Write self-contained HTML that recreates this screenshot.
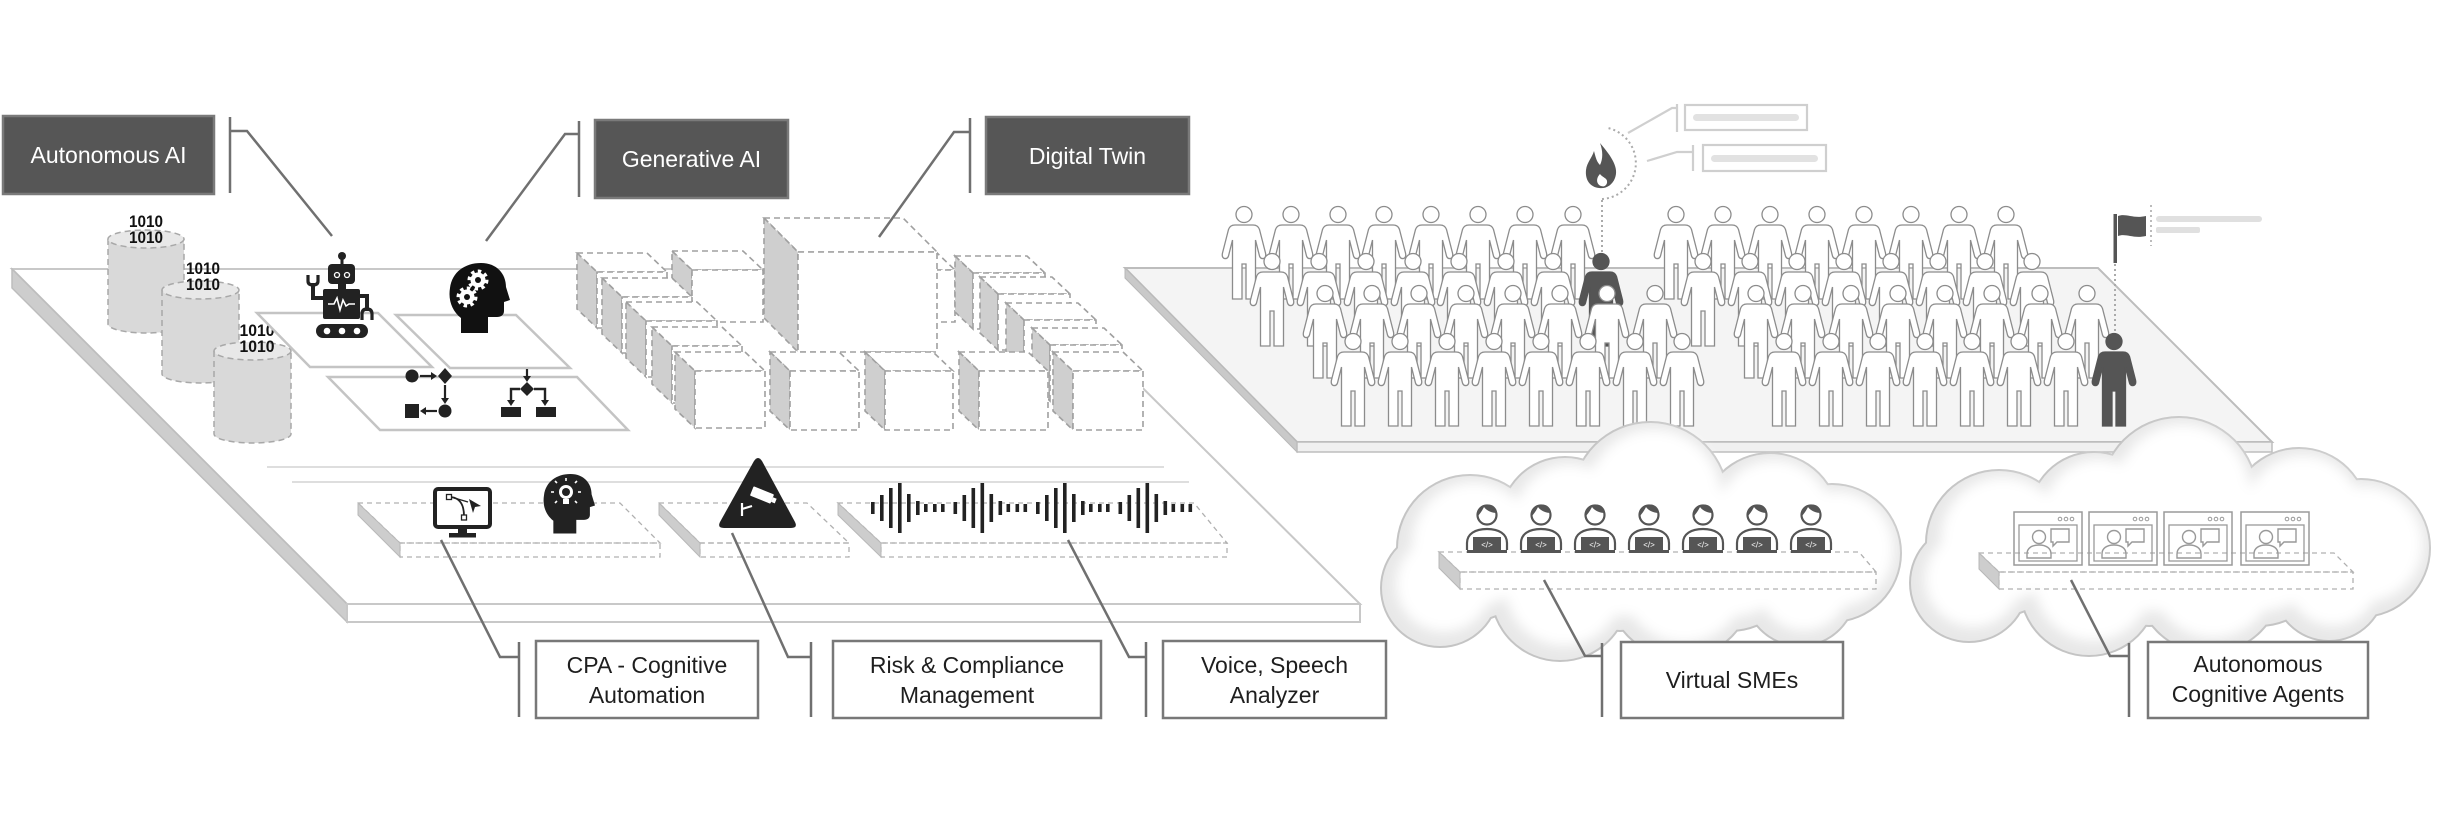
<!DOCTYPE html>
<html>
<head>
<meta charset="utf-8">
<style>
html,body{margin:0;padding:0;background:#fff;}
svg{display:block;}
text{font-family:"Liberation Sans",Arial,sans-serif;}
</style>
</head>
<body>
<svg width="2449" height="831" viewBox="0 0 2449 831" xmlns="http://www.w3.org/2000/svg">
<defs>
  <g id="pw">
    <circle cx="0" cy="8.5" r="8"/>
    <path d="M-9,19 L9,19 Q14,19 15.5,23.5 L21.5,47 Q22.5,51.5 19.5,52.5 Q16.5,53 15.5,50 L11.5,34 L11.5,93 L2,93 L2,58 L-2,58 L-2,93 L-11.5,93 L-11.5,34 L-15.5,50 Q-16.5,53 -19.5,52.5 Q-22.5,51.5 -21.5,47 L-15.5,23.5 Q-14,19 -9,19 Z"/>
  </g>
  <g id="sme">
    <path d="M-20,47 L-20,40 C-20,31 -12,26 0,26 C12,26 20,31 20,40 L20,47" fill="#fff" stroke="#555" stroke-width="2.2"/>
    <circle cx="0" cy="12" r="9.5" fill="#fff" stroke="#555" stroke-width="2.2"/>
    <path d="M-10,13 C-10,4 -4,1.5 1,1.5 C7,1.5 10,6 10,10 C4,10 -1,7 -3,4 C-5,8 -7,11 -10,14 Z" fill="#555"/>
    <rect x="-14" y="34" width="28" height="14" fill="#555"/>
    <rect x="-20" y="47" width="40" height="3" fill="#555"/>
    <text x="0" y="44.5" font-size="8" fill="#fff" text-anchor="middle">&lt;/&gt;</text>
  </g>
  <g id="win">
    <rect x="0" y="0" width="68" height="53" fill="none" stroke="#9a9a9a" stroke-width="1.5"/>
    <rect x="5" y="13" width="58" height="36" fill="none" stroke="#9a9a9a" stroke-width="1.3"/>
    <circle cx="46" cy="7" r="1.8" fill="none" stroke="#999" stroke-width="1"/>
    <circle cx="52" cy="7" r="1.8" fill="none" stroke="#999" stroke-width="1"/>
    <circle cx="58" cy="7" r="1.8" fill="none" stroke="#999" stroke-width="1"/>
    <circle cx="25" cy="25" r="6.5" fill="none" stroke="#999" stroke-width="1.4"/>
    <path d="M13,46 L13,42 C13,36 18,33 25,33 C32,33 37,36 37,42 L37,46 Z" fill="none" stroke="#999" stroke-width="1.4"/>
    <path d="M37,17 L55,17 L55,30 L43,30 L39,34 L39,30 L37,30 Z" fill="none" stroke="#999" stroke-width="1.4"/>
  </g>
  <filter id="bl" x="-30%" y="-30%" width="160%" height="160%"><feGaussianBlur stdDeviation="6"/></filter>
  <g id="cloudfull">
    <g fill="#c4c4c4">
      <circle cx="1650" cy="500" r="79"/>
      <circle cx="1565" cy="522" r="66"/>
      <circle cx="1470" cy="548" r="74"/>
      <circle cx="1440" cy="588" r="60"/>
      <circle cx="1770" cy="522" r="70"/>
      <circle cx="1832" cy="553" r="70"/>
      <circle cx="1560" cy="592" r="70"/>
      <circle cx="1680" cy="585" r="74"/>
      <circle cx="1800" cy="590" r="57"/>
      <circle cx="1620" cy="560" r="72"/>
      <circle cx="1730" cy="560" r="72"/>
    </g>
    <g fill="#e8e8e8">
      <circle cx="1650" cy="500" r="77"/>
      <circle cx="1565" cy="522" r="64"/>
      <circle cx="1470" cy="548" r="72"/>
      <circle cx="1440" cy="588" r="58"/>
      <circle cx="1770" cy="522" r="68"/>
      <circle cx="1832" cy="553" r="68"/>
      <circle cx="1560" cy="592" r="68"/>
      <circle cx="1680" cy="585" r="72"/>
      <circle cx="1800" cy="590" r="55"/>
      <circle cx="1620" cy="560" r="70"/>
      <circle cx="1730" cy="560" r="70"/>
    </g>
    <g fill="#ffffff" filter="url(#bl)" transform="translate(4,-4)">
      <circle cx="1650" cy="500" r="67"/>
      <circle cx="1565" cy="522" r="54"/>
      <circle cx="1470" cy="548" r="62"/>
      <circle cx="1440" cy="588" r="48"/>
      <circle cx="1770" cy="522" r="58"/>
      <circle cx="1832" cy="553" r="58"/>
      <circle cx="1560" cy="592" r="58"/>
      <circle cx="1680" cy="585" r="62"/>
      <circle cx="1800" cy="590" r="45"/>
      <circle cx="1620" cy="560" r="60"/>
      <circle cx="1730" cy="560" r="60"/>
    </g>
  </g>
  <g id="gear">
    <circle r="7.5" fill="#fff"/>
    <circle r="8.5" fill="none" stroke="#fff" stroke-width="4" stroke-dasharray="3.3 3.3"/>
    <circle r="3" fill="#111"/>
  </g>
  <path id="headp" d="M461,333 L461,318 C452,311 448,300 450,288 C452,272 465,263 481,263 C497,263 506,274 506,287 L510,300 L504,302 L504,311 C504,315 501,317 497,317 L488,317 L488,333 Z"/>
</defs>

<rect x="0" y="0" width="2449" height="831" fill="#fff"/>

<!-- LEFT PLATFORM -->
<polygon points="12,269 1023,269 1360,604 347,604" fill="#fff" stroke="#c8c8c8" stroke-width="2"/>
<polygon points="12,269 347,604 347,622 12,288" fill="#cdcdcd" stroke="#bdbdbd" stroke-width="1.5"/>
<rect x="347" y="604" width="1013" height="18" fill="#fff" stroke="#c8c8c8" stroke-width="2"/>

<line x1="267" y1="467" x2="1164" y2="467" stroke="#dedede" stroke-width="2"/>
<line x1="292" y1="482" x2="1189" y2="482" stroke="#dedede" stroke-width="2"/>

<!-- cylinders -->
<g stroke="#a8a8a8" stroke-width="1.5" stroke-dasharray="6 4">
  <path d="M108,239 L108,324 A38,9 0 0 0 184,324 L184,239" fill="#d9d9d9"/>
  <ellipse cx="146" cy="239" rx="38" ry="9" fill="#e8e8e8"/>
  <path d="M162,290 L162,374 A38.5,9 0 0 0 239,374 L239,290" fill="#d9d9d9"/>
  <ellipse cx="200.5" cy="290" rx="38.5" ry="9" fill="#e8e8e8"/>
  <path d="M214,351 L214,434 A38.5,9 0 0 0 291,434 L291,351" fill="#d9d9d9"/>
  <ellipse cx="252.5" cy="351" rx="38.5" ry="9" fill="#e8e8e8"/>
</g>
<g font-weight="bold" font-size="17" fill="#111" text-anchor="middle">
  <text x="146" y="227" textLength="34" lengthAdjust="spacingAndGlyphs">1010</text>
  <text x="146" y="243" textLength="34" lengthAdjust="spacingAndGlyphs">1010</text>
  <text x="203" y="274" textLength="34" lengthAdjust="spacingAndGlyphs">1010</text>
  <text x="203" y="290" textLength="34" lengthAdjust="spacingAndGlyphs">1010</text>
  <text x="257" y="336" textLength="35" lengthAdjust="spacingAndGlyphs">1010</text>
  <text x="257" y="352" textLength="35" lengthAdjust="spacingAndGlyphs">1010</text>
</g>

<!-- tiles -->
<g fill="#fff" stroke="#c4c4c4" stroke-width="2.5">
  <polygon points="257,313 378,313 432,367 310,367"/>
  <polygon points="396,315 516,315 570,368 450,368"/>
  <polygon points="328,377 577,377 628,430 380,430"/>
</g>

<!-- robot -->
<g fill="#222">
  <circle cx="342" cy="256" r="4"/>
  <rect x="340.5" y="256" width="3" height="9"/>
  <rect x="328" y="264" width="27" height="20" rx="4"/>
  <rect x="338" y="283" width="8" height="7"/>
  <rect x="323" y="289" width="37" height="30" rx="2"/>
  <rect x="316" y="324" width="52" height="14" rx="7"/>
</g>
<circle cx="337" cy="275" r="2.5" fill="none" stroke="#fff" stroke-width="1.3"/>
<circle cx="347" cy="275" r="2.5" fill="none" stroke="#fff" stroke-width="1.3"/>
<polyline points="328,304 334,304 337,298 340,310 343,300 346,306 349,304 355,304" fill="none" stroke="#fff" stroke-width="1.6"/>
<circle cx="327" cy="331" r="3.3" fill="#fff"/>
<circle cx="342" cy="331" r="3.3" fill="#fff"/>
<circle cx="357" cy="331" r="3.3" fill="#fff"/>
<path d="M323,298 L313,298 L313,283" fill="none" stroke="#222" stroke-width="4"/>
<path d="M308,275 L308,281 Q308,285 313,285 Q318,285 318,281 L318,275" fill="none" stroke="#222" stroke-width="3.2"/>
<path d="M360,296 L367,296 L367,311" fill="none" stroke="#222" stroke-width="4"/>
<path d="M362,320 L362,314 Q362,309 367,309 Q372,309 372,314 L372,320" fill="none" stroke="#222" stroke-width="3.2"/>

<!-- head with gears -->
<use href="#headp" fill="#111"/>
<use href="#gear" x="478" y="280"/>
<use href="#gear" x="467" y="297"/>

<!-- flowchart icons -->
<g fill="#222" stroke="#222">
  <circle cx="412" cy="376" r="6.5" stroke="none"/>
  <line x1="420" y1="376" x2="434" y2="376" stroke-width="2.2"/>
  <polygon points="431,372 437,376 431,380" stroke="none"/>
  <polygon points="445,368 452,376 445,384 438,376" stroke="none"/>
  <line x1="445" y1="385" x2="445" y2="400" stroke-width="2.2"/>
  <polygon points="441,398 445,404 449,398" stroke="none"/>
  <circle cx="445" cy="411" r="6.5" stroke="none"/>
  <line x1="424" y1="411" x2="437" y2="411" stroke-width="2.2"/>
  <polygon points="426,407 420,411 426,415" stroke="none"/>
  <rect x="405" y="404" width="14" height="14" stroke="none"/>
  <line x1="527" y1="369" x2="527" y2="378" stroke-width="2.2"/>
  <polygon points="523,376 527,382 531,376" stroke="none"/>
  <polygon points="527,382 534,389 527,396 520,389" stroke="none"/>
  <path d="M520,389 L511,389 L511,402 M534,389 L545,389 L545,402" fill="none" stroke-width="2.4"/>
  <polygon points="507,400 511,406 515,400" stroke="none"/>
  <polygon points="541,400 545,406 549,400" stroke="none"/>
  <rect x="501" y="407" width="20" height="10" stroke="none"/>
  <rect x="536" y="407" width="20" height="10" stroke="none"/>
</g>

<!-- cubes -->
<g stroke="#a0a0a0" stroke-width="1.6" stroke-dasharray="6 4">
  <polygon points="672,251 743,251 763,270 692,270" fill="#fff"/>
  <polygon points="672,251 692,270 692,322 672,303" fill="#cfcfcf"/>
  <rect x="692" y="270" width="71" height="52" fill="#fff"/>
  <polygon points="577,253 647,253 667,272 597,272" fill="#fff"/>
  <polygon points="577,253 597,272 597,328 577,309" fill="#cfcfcf"/>
  <rect x="597" y="272" width="70" height="56" fill="#fff"/>
  <polygon points="602,278 672,278 692,297 622,297" fill="#fff"/>
  <polygon points="602,278 622,297 622,353 602,334" fill="#cfcfcf"/>
  <rect x="622" y="297" width="70" height="56" fill="#fff"/>
  <polygon points="626,302 697,302 717,321 646,321" fill="#fff"/>
  <polygon points="626,302 646,321 646,377 626,358" fill="#cfcfcf"/>
  <rect x="646" y="321" width="71" height="56" fill="#fff"/>
  <polygon points="652,327 722,327 742,346 672,346" fill="#fff"/>
  <polygon points="652,327 672,346 672,403 652,384" fill="#cfcfcf"/>
  <rect x="672" y="346" width="70" height="57" fill="#fff"/>
  <polygon points="675,352 745,352 765,371 695,371" fill="#fff"/>
  <polygon points="675,352 695,371 695,428 675,409" fill="#cfcfcf"/>
  <rect x="695" y="371" width="70" height="57" fill="#fff"/>
  <polygon points="865,251 935,251 955,270 885,270" fill="#fff"/>
  <polygon points="865,251 885,270 885,322 865,303" fill="#cfcfcf"/>
  <rect x="885" y="270" width="70" height="52" fill="#fff"/>
  <polygon points="955,256 1027,256 1045,273 973,273" fill="#fff"/>
  <polygon points="955,256 973,273 973,329 955,312" fill="#cfcfcf"/>
  <rect x="973" y="273" width="72" height="56" fill="#fff"/>
  <polygon points="980,277 1052,277 1070,294 998,294" fill="#fff"/>
  <polygon points="980,277 998,294 998,350 980,333" fill="#cfcfcf"/>
  <rect x="998" y="294" width="72" height="56" fill="#fff"/>
  <polygon points="1006,303 1078,303 1096,320 1024,320" fill="#fff"/>
  <polygon points="1006,303 1024,320 1024,376 1006,359" fill="#cfcfcf"/>
  <rect x="1024" y="320" width="72" height="56" fill="#fff"/>
  <polygon points="1032,328 1104,328 1122,345 1050,345" fill="#fff"/>
  <polygon points="1032,328 1050,345 1050,401 1032,384" fill="#cfcfcf"/>
  <rect x="1050" y="345" width="72" height="56" fill="#fff"/>
  <polygon points="764,218 903,218 937,252 798,252" fill="#fff"/>
  <polygon points="764,218 798,252 798,352 764,318" fill="#cfcfcf"/>
  <rect x="798" y="252" width="139" height="100" fill="#fff"/>
  <polygon points="770,352 839,352 859,371 790,371" fill="#fff"/>
  <polygon points="770,352 790,371 790,430 770,411" fill="#cfcfcf"/>
  <rect x="790" y="371" width="69" height="59" fill="#fff"/>
  <polygon points="865,352 933,352 953,371 885,371" fill="#fff"/>
  <polygon points="865,352 885,371 885,430 865,411" fill="#cfcfcf"/>
  <rect x="885" y="371" width="68" height="59" fill="#fff"/>
  <polygon points="959,352 1028,352 1048,371 979,371" fill="#fff"/>
  <polygon points="959,352 979,371 979,430 959,411" fill="#cfcfcf"/>
  <rect x="979" y="371" width="69" height="59" fill="#fff"/>
  <polygon points="1053,352 1123,352 1143,371 1073,371" fill="#fff"/>
  <polygon points="1053,352 1073,371 1073,430 1053,411" fill="#cfcfcf"/>
  <rect x="1073" y="371" width="70" height="59" fill="#fff"/>
</g>

<!-- small dashed platforms -->
<g stroke="#b0b0b0" stroke-width="1.3" stroke-dasharray="5 4" fill="none">
  <polygon points="358,503 620,503 660,543 400,543"/>
  <rect x="400" y="543" width="260" height="14"/>
  <polygon points="659,503 807,503 849,543 700,543"/>
  <rect x="700" y="543" width="149" height="14"/>
  <polygon points="838,503 1194,503 1227,543 881,543"/>
  <rect x="881" y="543" width="346" height="14"/>
</g>
<g fill="#cdcdcd" stroke="#b8b8b8" stroke-width="1">
  <polygon points="358,503 400,543 400,557 358,515"/>
  <polygon points="659,503 700,543 700,557 659,515"/>
  <polygon points="838,503 881,543 881,557 838,515"/>
</g>

<!-- monitor icon -->
<rect x="435" y="489" width="55" height="38" rx="3" fill="#fff" stroke="#222" stroke-width="4"/>
<rect x="458" y="527" width="9" height="6" fill="#222"/>
<rect x="449" y="533" width="27" height="4.5" fill="#222"/>
<path d="M449,497 C460,497 464,505 464,516" fill="none" stroke="#222" stroke-width="1.8"/>
<path d="M451,497 L468,502" fill="none" stroke="#222" stroke-width="1.4"/>
<rect x="446.5" y="494.5" width="5" height="5" fill="#fff" stroke="#222" stroke-width="1.3"/>
<rect x="461.5" y="515" width="5" height="5" fill="#fff" stroke="#222" stroke-width="1.3"/>
<polygon points="469,499 481,506 475,507 473,513" fill="#222"/>

<!-- bulb head -->
<use href="#headp" fill="#222" transform="translate(544,474) scale(0.85) translate(-450,-263)"/>
<circle cx="566" cy="492" r="7" fill="#fff"/>
<circle cx="566" cy="492" r="4" fill="#222"/>
<rect x="563" y="499" width="6" height="5" fill="#fff"/>
<g stroke="#fff" stroke-width="1.6">
  <line x1="566" y1="478" x2="566" y2="481"/>
  <line x1="554" y1="492" x2="551" y2="492"/>
  <line x1="578" y1="492" x2="581" y2="492"/>
  <line x1="557" y1="483" x2="555" y2="481"/>
  <line x1="575" y1="483" x2="577" y2="481"/>
  <line x1="557" y1="501" x2="555" y2="503"/>
  <line x1="575" y1="501" x2="577" y2="503"/>
</g>

<!-- warning triangle -->
<path d="M754,461 Q758,455 762,461 L795,522 Q798,528 791,528 L724,528 Q717,528 720,522 Z" fill="#222"/>
<g transform="translate(762,495) rotate(22)">
  <rect x="-11" y="-5" width="22" height="10" rx="1" fill="#fff"/>
  <rect x="11" y="-2" width="4" height="5" fill="#fff"/>
</g>
<path d="M742,516 L742,503 M742,509 L752,506" fill="none" stroke="#fff" stroke-width="2.2"/>

<!-- waveform -->
<g fill="#222">
  <rect x="871" y="502" width="3.6" height="12"/>
  <rect x="880" y="495" width="3.6" height="26"/>
  <rect x="889" y="488" width="3.6" height="40"/>
  <rect x="898" y="483" width="3.6" height="50"/>
  <rect x="907" y="494" width="3.6" height="28"/>
  <rect x="916" y="501" width="3.6" height="14"/>
  <rect x="924" y="504" width="3.6" height="8"/>
  <rect x="933" y="504" width="3.6" height="8"/>
  <rect x="941" y="504" width="3.6" height="8"/>
  <rect x="953.5" y="502" width="3.6" height="12"/>
  <rect x="962.5" y="495" width="3.6" height="26"/>
  <rect x="971.5" y="488" width="3.6" height="40"/>
  <rect x="980.5" y="483" width="3.6" height="50"/>
  <rect x="989.5" y="494" width="3.6" height="28"/>
  <rect x="998.5" y="501" width="3.6" height="14"/>
  <rect x="1006.5" y="504" width="3.6" height="8"/>
  <rect x="1015.5" y="504" width="3.6" height="8"/>
  <rect x="1023.5" y="504" width="3.6" height="8"/>
  <rect x="1036" y="502" width="3.6" height="12"/>
  <rect x="1045" y="495" width="3.6" height="26"/>
  <rect x="1054" y="488" width="3.6" height="40"/>
  <rect x="1063" y="483" width="3.6" height="50"/>
  <rect x="1072" y="494" width="3.6" height="28"/>
  <rect x="1081" y="501" width="3.6" height="14"/>
  <rect x="1089" y="504" width="3.6" height="8"/>
  <rect x="1098" y="504" width="3.6" height="8"/>
  <rect x="1106" y="504" width="3.6" height="8"/>
  <rect x="1118.5" y="502" width="3.6" height="12"/>
  <rect x="1127.5" y="495" width="3.6" height="26"/>
  <rect x="1136.5" y="488" width="3.6" height="40"/>
  <rect x="1145.5" y="483" width="3.6" height="50"/>
  <rect x="1154.5" y="494" width="3.6" height="28"/>
  <rect x="1163.5" y="501" width="3.6" height="14"/>
  <rect x="1171.5" y="504" width="3.6" height="8"/>
  <rect x="1180.5" y="504" width="3.6" height="8"/>
  <rect x="1188.5" y="504" width="3.6" height="8"/>
</g>

<!-- RIGHT PLATFORM -->
<polygon points="1125,268 2098,268 2272,442 1297,442" fill="#f4f4f4" stroke="#bdbdbd" stroke-width="2"/>
<polygon points="1125,268 1297,442 1297,452 1125,278" fill="#c9c9c9" stroke="#b8b8b8" stroke-width="1"/>
<rect x="1297" y="442" width="975" height="10" fill="#f0f0f0" stroke="#bdbdbd" stroke-width="1.5"/>

<!-- callout from flame -->
<g stroke="#cfcfcf" stroke-width="2.2" fill="none">
  <polyline points="1628,133 1672,108 1677,108"/>
  <line x1="1677" y1="104" x2="1677" y2="132"/>
  <rect x="1685" y="105" width="122" height="25"/>
  <polyline points="1647,161 1677,152 1693,152"/>
  <line x1="1693" y1="145" x2="1693" y2="171"/>
  <rect x="1703" y="145" width="123" height="26"/>
</g>
<rect x="1693" y="114" width="106" height="7" rx="3.5" fill="#e2e2e2"/>
<rect x="1711" y="155" width="107" height="7" rx="3.5" fill="#e2e2e2"/>
<path d="M1602,199 A36,36 0 0 0 1608,128" fill="none" stroke="#aaa" stroke-width="2" stroke-dasharray="2 3"/>
<line x1="1602" y1="200" x2="1602" y2="253" stroke="#aaa" stroke-width="2" stroke-dasharray="2 3"/>
<path d="M1600,143 C1612,157 1619,168 1615,178 C1612,186 1605,189 1599,188 C1590,187 1585,180 1586,170 C1587,162 1592,158 1594,151 C1596,159 1597,162 1600,165 C1603,159 1603,151 1600,143 Z" fill="#555"/>
<path d="M1601,186 C1596,184 1596,178 1600,174 C1603,178 1608,178 1607,183 C1606,186 1604,187 1601,186 Z" fill="#fff"/>

<!-- flag -->
<rect x="2113.5" y="214" width="3.5" height="49" fill="#555"/>
<path d="M2118,216 C2126,213 2133,219 2146,216 L2146,236 C2133,239 2126,233 2118,236 Z" fill="#555"/>
<line x1="2151" y1="205" x2="2151" y2="246" stroke="#bbb" stroke-width="2" stroke-dasharray="2 3"/>
<rect x="2156" y="216" width="106" height="6" rx="3" fill="#e0e0e0"/>
<rect x="2156" y="227" width="44" height="6" rx="2" fill="#e0e0e0"/>
<line x1="2115" y1="264" x2="2115" y2="333" stroke="#aaa" stroke-width="2" stroke-dasharray="2 3"/>

<!-- crowd -->
<g fill="#fff" stroke="#8c8c8c" stroke-width="1.3">
  <use href="#pw" x="1244" y="206"/><use href="#pw" x="1291" y="206"/><use href="#pw" x="1338" y="206"/><use href="#pw" x="1384" y="206"/>
  <use href="#pw" x="1431" y="206"/><use href="#pw" x="1478" y="206"/><use href="#pw" x="1525" y="206"/><use href="#pw" x="1573" y="206"/>
  <use href="#pw" x="1676" y="206"/><use href="#pw" x="1723" y="206"/><use href="#pw" x="1770" y="206"/><use href="#pw" x="1817" y="206"/>
  <use href="#pw" x="1864" y="206"/><use href="#pw" x="1911" y="206"/><use href="#pw" x="1959" y="206"/><use href="#pw" x="2006" y="206"/>
  <use href="#pw" x="1272" y="253"/><use href="#pw" x="1319" y="253"/><use href="#pw" x="1366" y="253"/><use href="#pw" x="1413" y="253"/>
  <use href="#pw" x="1459" y="253"/><use href="#pw" x="1506" y="253"/><use href="#pw" x="1553" y="253"/>
  <use href="#pw" x="1601" y="253" fill="#555" stroke="#555"/>
  <use href="#pw" x="1703" y="253"/><use href="#pw" x="1750" y="253"/><use href="#pw" x="1797" y="253"/><use href="#pw" x="1844" y="253"/>
  <use href="#pw" x="1891" y="253"/><use href="#pw" x="1938" y="253"/><use href="#pw" x="1985" y="253"/><use href="#pw" x="2032" y="253"/>
  <use href="#pw" x="1325" y="285"/><use href="#pw" x="1372" y="285"/><use href="#pw" x="1419" y="285"/><use href="#pw" x="1466" y="285"/>
  <use href="#pw" x="1513" y="285"/><use href="#pw" x="1560" y="285"/><use href="#pw" x="1607" y="285"/><use href="#pw" x="1655" y="285"/>
  <use href="#pw" x="1756" y="285"/><use href="#pw" x="1803" y="285"/><use href="#pw" x="1851" y="285"/><use href="#pw" x="1898" y="285"/>
  <use href="#pw" x="1945" y="285"/><use href="#pw" x="1992" y="285"/><use href="#pw" x="2040" y="285"/><use href="#pw" x="2087" y="285"/>
  <use href="#pw" x="1353" y="333"/><use href="#pw" x="1400" y="333"/><use href="#pw" x="1447" y="333"/><use href="#pw" x="1494" y="333"/>
  <use href="#pw" x="1541" y="333"/><use href="#pw" x="1588" y="333"/><use href="#pw" x="1635" y="333"/><use href="#pw" x="1682" y="333"/>
  <use href="#pw" x="1784" y="333"/><use href="#pw" x="1831" y="333"/><use href="#pw" x="1878" y="333"/><use href="#pw" x="1925" y="333"/>
  <use href="#pw" x="1972" y="333"/><use href="#pw" x="2019" y="333"/><use href="#pw" x="2066" y="333"/>
  <use href="#pw" x="2114" y="333" fill="#555" stroke="#555"/>
</g>

<!-- CLOUDS -->
<use href="#cloudfull"/>
<use href="#cloudfull" transform="translate(529,-5)"/>

<!-- cloud platforms -->
<g stroke="#b0b0b0" stroke-width="1.3" stroke-dasharray="5 4" fill="none">
  <polygon points="1439,552 1859,552 1876,572 1460,572"/>
  <rect x="1460" y="572" width="416" height="17"/>
  <polygon points="1979,553 2334,553 2353,572 1999,572"/>
  <rect x="1999" y="572" width="354" height="17"/>
</g>
<g fill="#cdcdcd" stroke="#b8b8b8" stroke-width="1">
  <polygon points="1439,552 1460,572 1460,589 1439,568"/>
  <polygon points="1979,553 1999,572 1999,589 1979,569"/>
</g>

<!-- SMEs -->
<use href="#sme" x="1487" y="503"/>
<use href="#sme" x="1541" y="503"/>
<use href="#sme" x="1595" y="503"/>
<use href="#sme" x="1649" y="503"/>
<use href="#sme" x="1703" y="503"/>
<use href="#sme" x="1757" y="503"/>
<use href="#sme" x="1811" y="503"/>

<!-- agent windows -->
<use href="#win" x="2014" y="512"/>
<use href="#win" x="2089" y="512"/>
<use href="#win" x="2164" y="512"/>
<use href="#win" x="2241" y="512"/>

<!-- CONNECTORS -->
<g fill="none" stroke="#707070" stroke-width="2.5">
  <polyline points="332,236 247,131 230,131"/>
  <line x1="230" y1="117" x2="230" y2="193"/>
  <polyline points="486,241 565,134 579,134"/>
  <line x1="579" y1="121" x2="579" y2="197"/>
  <polyline points="879,237 954,132 970,132"/>
  <line x1="970" y1="118" x2="970" y2="193"/>
  <polyline points="441,540 500,657 519,657"/>
  <line x1="519" y1="642" x2="519" y2="717"/>
  <polyline points="732,533 788,657 811,657"/>
  <line x1="811" y1="642" x2="811" y2="717"/>
  <polyline points="1068,540 1129,657 1146,657"/>
  <line x1="1146" y1="642" x2="1146" y2="717"/>
  <polyline points="1544,580 1585,656 1602,656"/>
  <line x1="1602" y1="643" x2="1602" y2="717"/>
  <polyline points="2071,580 2110,656 2129,656"/>
  <line x1="2129" y1="643" x2="2129" y2="717"/>
</g>

<!-- dark label boxes -->
<g fill="#565656" stroke="#7a7a7a" stroke-width="2.5">
  <rect x="3" y="116" width="211" height="78"/>
  <rect x="595" y="120" width="193" height="78"/>
  <rect x="986" y="117" width="203" height="77"/>
</g>
<g fill="#fff" font-size="23" text-anchor="middle">
  <text x="108.5" y="163">Autonomous AI</text>
  <text x="691.5" y="167">Generative AI</text>
  <text x="1087.5" y="164">Digital Twin</text>
</g>

<!-- white label boxes -->
<g fill="#fff" stroke="#787878" stroke-width="2.5">
  <rect x="536" y="641" width="222" height="77"/>
  <rect x="833" y="641" width="268" height="77"/>
  <rect x="1163" y="641" width="223" height="77"/>
  <rect x="1621" y="642" width="222" height="76"/>
  <rect x="2148" y="642" width="220" height="76"/>
</g>
<g fill="#1e1e1e" font-size="23" text-anchor="middle">
  <text x="647" y="673">CPA - Cognitive</text>
  <text x="647" y="703">Automation</text>
  <text x="967" y="673">Risk &amp; Compliance</text>
  <text x="967" y="703">Management</text>
  <text x="1274.5" y="673">Voice, Speech</text>
  <text x="1274.5" y="703">Analyzer</text>
  <text x="1732" y="688">Virtual SMEs</text>
  <text x="2258" y="672">Autonomous</text>
  <text x="2258" y="702">Cognitive Agents</text>
</g>
</svg>
</body>
</html>
